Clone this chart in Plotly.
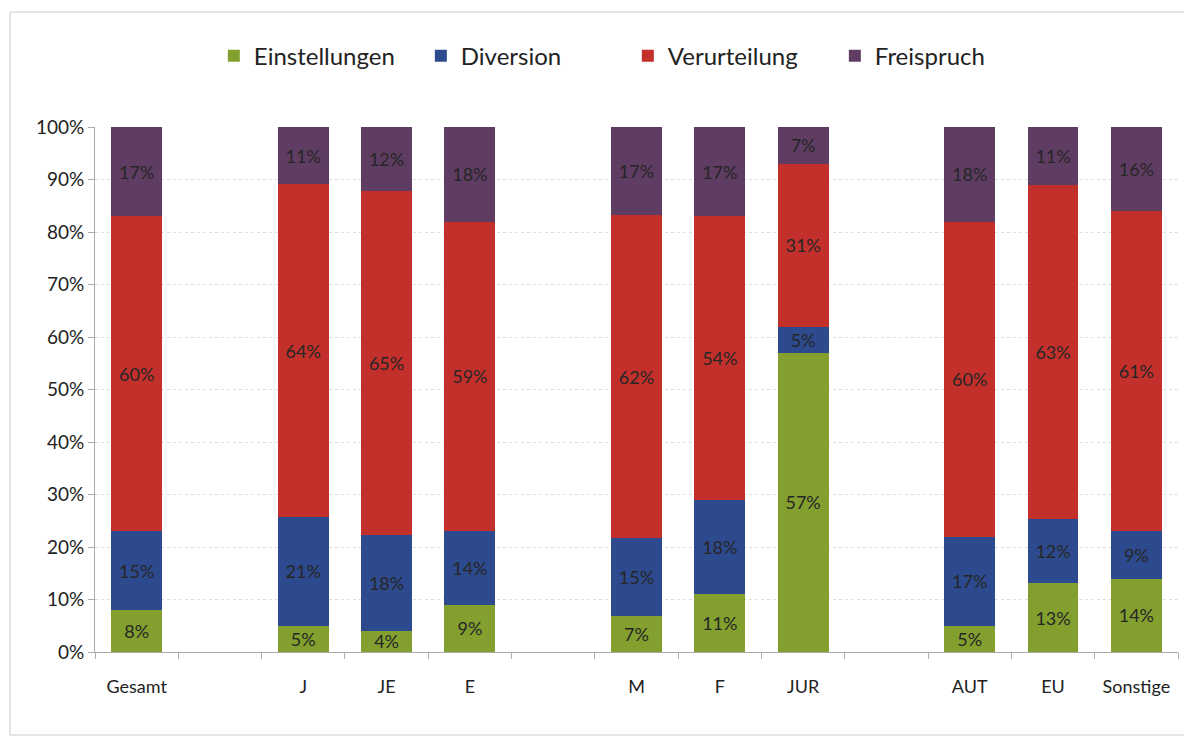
import plotly.graph_objects as go

categories = ["Gesamt", " ", "J", "JE", "E", "  ", "M", "F", "JUR", "   ", "AUT", "EU", "Sonstige"]
series_names = ["Einstellungen", "Diversion", "Verurteilung", "Freispruch"]
einstellungen = [8, None, 5, 4, 9, None, 7, 11, 57, None, 5, 13, 14]
diversion = [15, None, 21, 18, 14, None, 15, 18, 5, None, 17, 12, 9]
verurteilung = [60, None, 64, 65, 59, None, 62, 54, 31, None, 60, 63, 61]
freispruch = [17, None, 11, 12, 18, None, 17, 17, 7, None, 18, 11, 16]
colors = ["#83a02f", "#2d4a8e", "#c3302b", "#5f3c62"]
y_ticks = [0, 10, 20, 30, 40, 50, 60, 70, 80, 90, 100]

fig = go.Figure()
for name, vals, col in zip(series_names, [einstellungen, diversion, verurteilung, freispruch], colors):
    fig.add_trace(go.Bar(
        x=categories, y=vals, name=name, marker_color=col, marker_line_width=0,
        text=[f"{v}%" if v is not None else "" for v in vals],
        textposition="inside", insidetextanchor="middle", constraintext="none",
        textfont=dict(family="Lato, sans-serif", size=18, color="#262626"),
        textangle=0, hoverinfo="skip",
    ))

W, H = 1192, 747
ML, MR, MT, MB = 87, 22, 119, 103
PW, PH = W - ML - MR, H - MT - MB

fig.update_layout(
    barmode="stack", barnorm="percent", bargap=0.39,
    width=W, height=H,
    margin=dict(l=ML, r=MR, t=MT, b=MB),
    paper_bgcolor="white", plot_bgcolor="white",
    font=dict(family="Lato, sans-serif", color="#222222"),
    uniformtext=dict(mode="show", minsize=18),
    legend=dict(orientation="h", x=0.492, xanchor="center", y=1.135, yanchor="middle",
                font=dict(size=24, color="#222222"), itemwidth=30, traceorder="normal",
                entrywidthmode="pixels", entrywidth=162),
    showlegend=True,
)
fig.update_xaxes(
    type="category", categoryorder="array", categoryarray=categories,
    tickson="boundaries", ticks="outside", ticklen=6, tickcolor="#aaaaaa",
    showline=True, linecolor="#aaaaaa", linewidth=1, ticklabelstandoff=18,
    tickfont=dict(size=18, color="#222222"), showgrid=False,
)
fig.update_yaxes(
    range=[0, 100], tickvals=y_ticks, ticktext=[f"{v}%" for v in y_ticks],
    ticks="outside", ticklen=6, tickcolor="#aaaaaa",
    showline=True, linecolor="#aaaaaa", linewidth=1,
    showgrid=True, gridcolor="#dddddd", griddash="dot", gridwidth=1,
    tickfont=dict(size=19, color="#222222"), zeroline=False,
)
fig.add_shape(type="rect", xref="paper", yref="paper",
              x0=(2 - ML) / PW, x1=(1182 - ML) / PW,
              y0=(MT + PH - 727) / PH, y1=(MT + PH - 4) / PH,
              line=dict(color="#cccccc", width=1), layer="below")

fig.write_html("out.html")
